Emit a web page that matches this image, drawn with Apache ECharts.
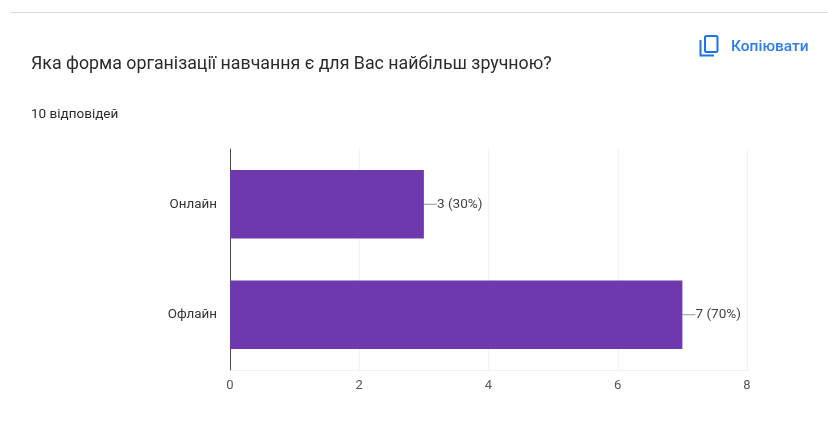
<!DOCTYPE html>
<html>
<head>
<meta charset="utf-8">
<style>
html,body{margin:0;padding:0;background:#fff}
#chart{width:828px;height:430px}
</style>
<script src="https://cdn.jsdelivr.net/npm/echarts@6/dist/echarts.min.js"></script>
</head>
<body>
<div id="chart"></div>
<script>
// Survey answers: how many respondents chose each form of study
const categories = ['Онлайн', 'Офлайн'];
const responses = [3, 7];
const valueLabels = ['3 (30%)', '7 (70%)'];
const xTicks = [0, 2, 4, 6, 8];
const question = 'Яка форма організації навчання є для Вас найбільш зручною?';
const answerCount = '10 відповідей';
const copyLabel = 'Копіювати';

const font = 'Roboto, Arial, sans-serif';
const chart = echarts.init(document.getElementById('chart'), null, {renderer: 'canvas'});

chart.setOption({
  animation: false,
  backgroundColor: '#ffffff',
  title: [
    {text: question, left: 31, top: 56, padding: 0,
     textStyle: {fontFamily: font, fontSize: 17.8, fontWeight: 400, color: '#2b2b2b'}},
    {text: answerCount, left: 31, top: 107.5, padding: 0,
     textStyle: {fontFamily: font, fontSize: 13.5, fontWeight: 400, color: '#2b2b2b'}}
  ],
  grid: {left: 230, top: 149, width: 517, height: 221, containLabel: false},
  xAxis: {
    type: 'value', min: xTicks[0], max: xTicks[xTicks.length - 1], interval: 2,
    axisLine: {show: false},
    axisTick: {show: false},
    axisLabel: {fontFamily: font, fontSize: 13, color: '#555555', margin: 9},
    splitLine: {show: true, lineStyle: {color: '#f3f3f3', width: 1}}
  },
  yAxis: {
    type: 'category', data: categories, inverse: true,
    axisLine: {show: true, onZero: false, lineStyle: {color: '#4a4a4a', width: 1}},
    axisTick: {show: false},
    axisLabel: {fontFamily: font, fontSize: 13.4, color: '#333333', margin: 13, padding: [1, 0, 0, 0]}
  },
  series: [{
    type: 'bar',
    data: responses,
    barWidth: 68.5,
    itemStyle: {color: '#6e38ae'},
    label: {
      show: true, position: 'right', distance: 0,
      fontFamily: font, fontSize: 13.6, color: '#444444',
      formatter: p => valueLabels[p.dataIndex]
    },
    labelLayout: {dx: 13},
    labelLine: {show: true, lineStyle: {color: '#999999', width: 1}}
  }],
  graphic: [
    // Rule across the top of the card
    {type: 'rect', shape: {x: 10, y: 12, width: 818, height: 1}, style: {fill: '#dadce0'}},
    // Right edge and floor of the plot area
    {type: 'rect', shape: {x: 747, y: 148, width: 1, height: 222}, style: {fill: '#f3f3f3'}},
    {type: 'rect', shape: {x: 231, y: 370, width: 517, height: 1}, style: {fill: '#f3f3f3'}},
    // Copy icon and caption
    {type: 'rect', shape: {x: 705, y: 36, width: 12.5, height: 16, r: 1.5},
     style: {fill: 'none', stroke: '#1a73e8', lineWidth: 2}},
    {type: 'polyline', shape: {points: [[700.5, 40], [700.5, 55.5], [714, 55.5]]},
     style: {fill: 'none', stroke: '#1a73e8', lineWidth: 2}},
    {type: 'text', x: 731, y: 39.5,
     style: {text: copyLabel, fontFamily: font, fontSize: 15.5, fontWeight: 500, fill: '#2b7de9'}}
  ]
});
</script>
</body>
</html>
